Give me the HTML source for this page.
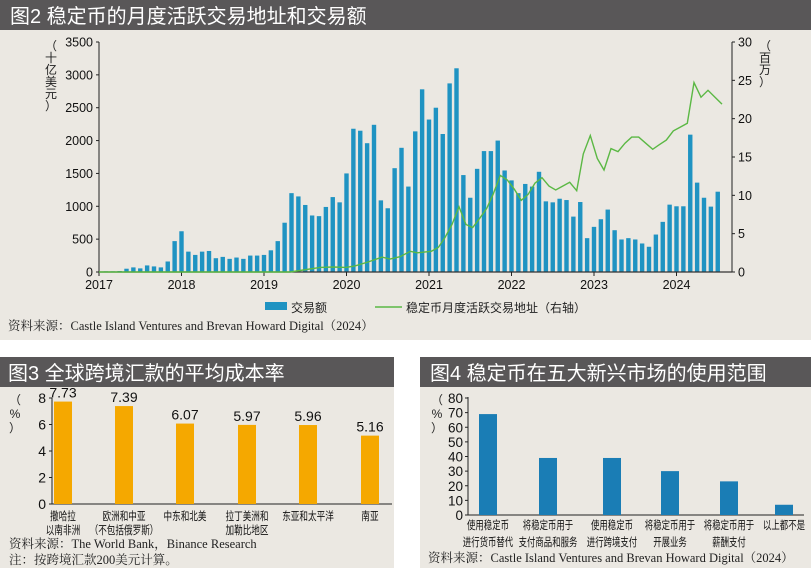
<!DOCTYPE html>
<html><head><meta charset="utf-8"><style>
html,body{margin:0;padding:0;background:#fff;}
svg{display:block;font-family:"Liberation Sans","Noto Sans CJK SC",sans-serif;}
.ser{font-family:"Liberation Serif","Noto Serif CJK SC",serif;}
</style></head><body>
<svg id="s" width="811" height="568" viewBox="0 0 811 568" xmlns="http://www.w3.org/2000/svg">
<rect x="0" y="0" width="811" height="340" fill="#ebe8e2"/>
<rect x="0" y="0" width="811" height="30" fill="#595758"/>
<text x="10" y="23" font-size="20" fill="#fff">图2 稳定币的月度活跃交易地址和交易额</text>
<g id="top"></g>
<rect x="265" y="302" width="22" height="8" fill="#1f93c2"/>
<text x="291" y="312" font-size="12" fill="#222">交易额</text>
<line x1="375" y1="307" x2="402" y2="307" stroke="#5bb844" stroke-width="1.5"/>
<text x="406" y="312" font-size="12" fill="#222">稳定币月度活跃交易地址（右轴）</text>
<text x="8" y="330" font-size="12.5" fill="#222" class="ser">资料来源：Castle Island Ventures and Brevan Howard Digital（2024）</text>

<rect x="0" y="357" width="394" height="211" fill="#ebe8e2"/>
<rect x="0" y="357" width="394" height="30" fill="#595758"/>
<text x="8" y="380" font-size="20" fill="#fff">图3 全球跨境汇款的平均成本率</text>
<g id="f3"></g>
<text x="9" y="548" font-size="12.5" fill="#222" class="ser">资料来源：The World Bank，Binance Research</text>
<text x="9" y="564" font-size="12.5" fill="#222" class="ser">注：按跨境汇款200美元计算。</text>

<rect x="420" y="357" width="391" height="211" fill="#ebe8e2"/>
<rect x="420" y="357" width="391" height="30" fill="#595758"/>
<text x="430" y="380" font-size="20" fill="#fff">图4 稳定币在五大新兴市场的使用范围</text>
<g id="f4"></g>
<text x="428" y="562" font-size="12.5" fill="#222" class="ser">资料来源：Castle Island Ventures and Brevan Howard Digital（2024）</text>
</svg>
<script>
const NS="http://www.w3.org/2000/svg";
function el(p,t,a,txt){const e=document.createElementNS(NS,t);for(const k in a)e.setAttribute(k,a[k]);if(txt!==undefined)e.textContent=txt;p.appendChild(e);return e;}
const g=document.getElementById('top');
const y0=272,yt=42,H=y0-yt;
const bars=[5,10,10,15,50,70,55,100,85,70,160,470,620,310,260,310,320,210,230,200,220,200,250,250,260,330,470,750,1200,1150,1020,860,850,990,1140,1060,1500,2180,2150,1960,2240,1090,970,1580,1890,1300,2140,2780,2320,2500,2100,2870,3100,1475,1130,1570,1840,1840,2000,1545,1394,1200,1340,1300,1525,1075,1060,1115,1095,843,1065,515,687,803,950,636,495,515,495,434,384,570,763,1025,1000,1000,2090,1360,1130,995,1222];
bars.forEach((v,i)=>{const x=99+i*6.875;const h=v/3500*H;el(g,'rect',{x:x-2.2,y:y0-h,width:4.4,height:h,fill:'#1f93c2'});});
el(g,'line',{x1:99,y1:yt,x2:99,y2:y0,stroke:'#222','stroke-width':1});
el(g,'line',{x1:732,y1:yt,x2:732,y2:y0,stroke:'#222','stroke-width':1});
el(g,'line',{x1:99,y1:y0,x2:732,y2:y0,stroke:'#333','stroke-width':1.2});
for(let v=0;v<=3500;v+=500){const y=y0-v/3500*H;el(g,'line',{x1:96,y1:y,x2:99,y2:y,stroke:'#222'});el(g,'text',{x:93,y:y+4.5,'font-size':12.5,'text-anchor':'end',fill:'#111'},v);}
for(let v=0;v<=30;v+=5){const y=y0-v/30*H;el(g,'line',{x1:732,y1:y,x2:735,y2:y,stroke:'#222'});el(g,'text',{x:738,y:y+4.5,'font-size':12.5,fill:'#111'},v);}
for(let k=0;k<8;k++){const x=99+k*82.5;el(g,'line',{x1:x,y1:y0,x2:x,y2:y0+4,stroke:'#222'});el(g,'text',{x:x,y:y0+17,'font-size':12.5,'text-anchor':'middle',fill:'#111'},2017+k);}
['（','十','亿','美','元','）'].forEach((c,i)=>el(g,'text',{x:51,y:50+i*12,'font-size':12,'text-anchor':'middle',fill:'#222'},c));
['（','百','万','）'].forEach((c,i)=>el(g,'text',{x:765,y:50+i*12,'font-size':12,'text-anchor':'middle',fill:'#222'},c));
const gp=[[99,0],[290,0],[300,0.2],[320,0.6],[333,0.65],[346,0.6],[355,0.8],[368,1.3],[382,1.95],[390,1.7],[400,2.0]];
const z=[[31,2.7],[52,2.5],[94,2.7],[115,3.2],[135,4.5],[156,6.2],[177,8.5],[198,6.2],[218,5.8],[239,7],[260,8.3],[280,10.2],[301,12.6],[322,12],[343,10.8],[364,9.35],[384,10.1],[405,11.6],[426,12.3],[447,11.2],[467,10.7],[488,11.2],[509,11.7],[530,10.6],[550,15.4],[571,17.8],[592,14.8],[612,13.3],[633,16.1],[654,15.7],[675,16.8],[695,17.6],[716,17.6],[737,16.8],[758,16],[778,16.6],[799,17.2],[820,18.4],[841,18.9],[862,19.4],[882,24.7],[903,22.8],[924,23.7],[945,22.8],[966,21.9]];
z.forEach(p=>gp.push([400+p[0]/3,p[1]]));
el(g,'polyline',{points:gp.map(p=>p[0].toFixed(1)+','+(y0-p[1]/30*H).toFixed(1)).join(' '),fill:'none',stroke:'#5bb844','stroke-width':1.4});

function lab(p,x,y,t,cw){const n=[...t].length;el(p,'text',{x:x-n*cw/2,y:y,'font-size':11.5,fill:'#111',textLength:n*cw,lengthAdjust:'spacingAndGlyphs'},t);}

// fig3
const f3=document.getElementById('f3');
const b3=504,s3=13.25;
el(f3,'line',{x1:52,y1:398,x2:52,y2:b3,stroke:'#222'});
el(f3,'line',{x1:52,y1:b3,x2:392,y2:b3,stroke:'#222'});
for(let v=0;v<=8;v+=2){const y=b3-v*s3;el(f3,'line',{x1:49,y1:y,x2:52,y2:y,stroke:'#222'});el(f3,'text',{x:46,y:y+5,'font-size':14,'text-anchor':'end',fill:'#111'},v);}
['（','%','）'].forEach((c,i)=>el(f3,'text',{x:15,y:404+i*14,'font-size':12,'text-anchor':'middle',fill:'#222'},c));
const d3=[[63,7.73,['撒哈拉','以南非洲']],[124,7.39,['欧洲和中亚','（不包括俄罗斯）']],[185,6.07,['中东和北美']],[247,5.97,['拉丁美洲和','加勒比地区']],[308,5.96,['东亚和太平洋']],[370,5.16,['南亚']]];
d3.forEach(d=>{const h=d[1]*s3;el(f3,'rect',{x:d[0]-9,y:b3-h,width:18,height:h,fill:'#f5a800'});el(f3,'text',{x:d[0],y:b3-h-4,'font-size':14,'text-anchor':'middle',fill:'#111'},d[1].toFixed(2));d[2].forEach((t,i)=>lab(f3,d[0],520+i*14,t,8.6));});

// fig4
const f4=document.getElementById('f4');
const b4=515,s4=117/80;
el(f4,'line',{x1:468,y1:397,x2:468,y2:b4,stroke:'#222'});
el(f4,'line',{x1:468,y1:b4,x2:804,y2:b4,stroke:'#222'});
for(let v=0;v<=80;v+=10){const y=b4-v*s4;el(f4,'line',{x1:465,y1:y,x2:468,y2:y,stroke:'#222'});el(f4,'text',{x:463,y:y+5,'font-size':13.5,'text-anchor':'end',fill:'#111'},v);}
['（','%','）'].forEach((c,i)=>el(f4,'text',{x:437,y:404+i*14,'font-size':12,'text-anchor':'middle',fill:'#222'},c));
const d4=[[488,69,['使用稳定币','进行货币替代']],[548,39,['将稳定币用于','支付商品和服务']],[612,39,['使用稳定币','进行跨境支付']],[670,30,['将稳定币用于','开展业务']],[729,23,['将稳定币用于','薪酬支付']],[784,7,['以上都不是']]];
d4.forEach(d=>{const h=d[1]*s4;el(f4,'rect',{x:d[0]-9,y:b4-h,width:18,height:h,fill:'#1a7db5'});d[2].forEach((t,i)=>lab(f4,d[0],529+i*17,t,8.4));});
</script>
</body></html>
